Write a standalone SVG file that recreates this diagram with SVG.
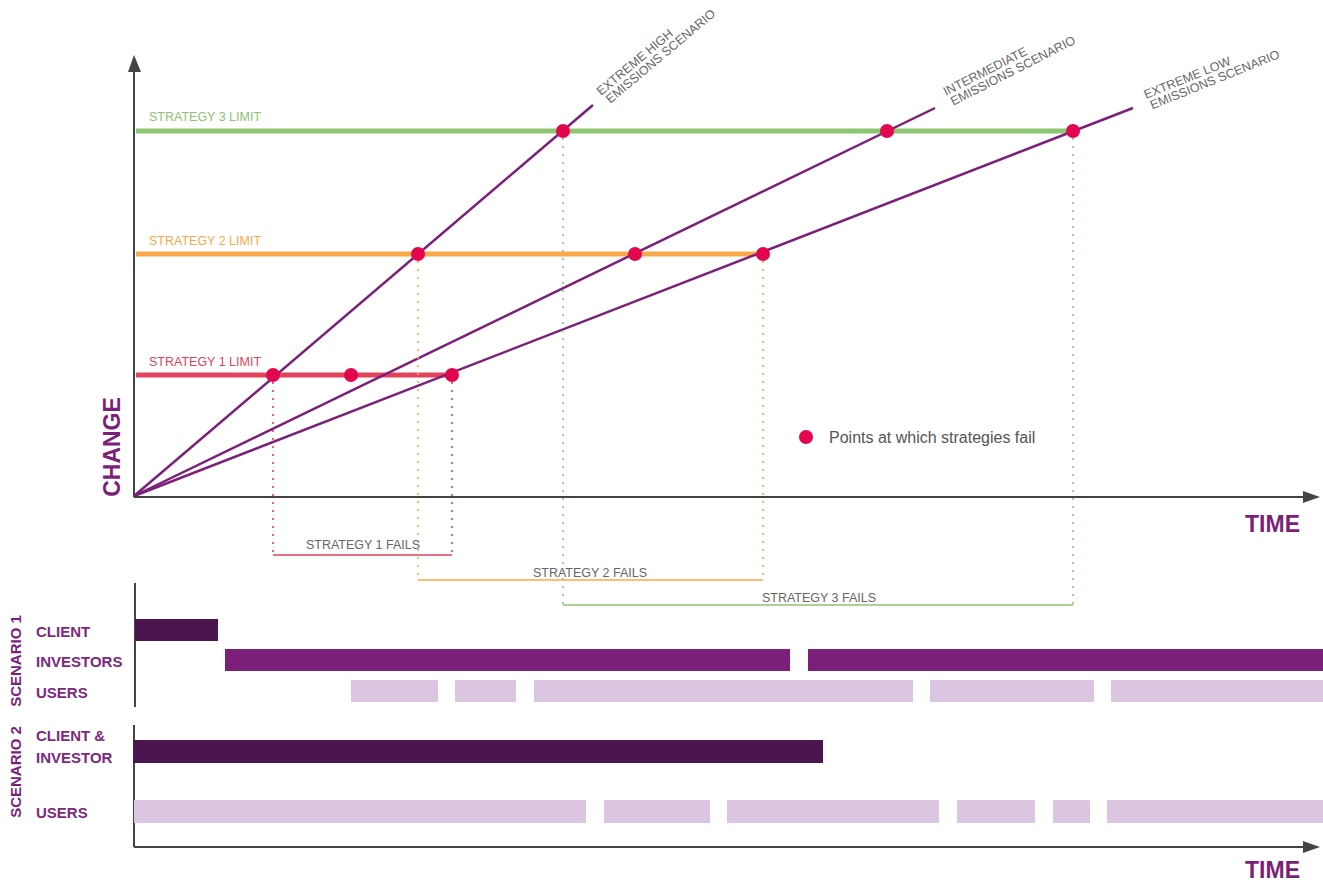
<svg xmlns="http://www.w3.org/2000/svg" width="1323" height="885" viewBox="0 0 1323 885">
<style>
.axis{stroke:#444;stroke-width:2;fill:none}
.arrow{fill:#444}
.scen{stroke:#7b1f7a;stroke-width:2.5;fill:none}
.lim{stroke-width:5;fill:none}
.dot{fill:#e3064f}
.dotted{stroke-width:2.2;stroke-dasharray:0 8;stroke-linecap:round;fill:none}
.fail{stroke-width:1.5;fill:none}
.small{font-family:"Liberation Sans",Arial,sans-serif;font-size:12.5px}
.gray{fill:#666}
.head{font-family:"Liberation Sans",Arial,sans-serif;font-weight:bold;fill:#7b1f7a}
.lab{font-family:"Liberation Sans",Arial,sans-serif;font-weight:bold;font-size:15px;fill:#7b2a7e}
.dark{fill:#4b1550}
.mid{fill:#7b1f7a}
.light{fill:#dcc5e0}
.red{stroke:#e0435a}
.orange{stroke:#f9a84a}
.green{stroke:#8cc572}
</style>
<rect width="1323" height="885" fill="#fff"/>

<g id="axes-top">
<line class="axis" x1="134" y1="497" x2="134" y2="70"/>
<polygon class="arrow" points="134,55 128,72 141,72"/>
<line class="axis" x1="134" y1="497" x2="1305" y2="497"/>
<polygon class="arrow" points="1320,497 1303,491 1303,503"/>
<text class="head" font-size="23" transform="translate(120,447) rotate(-90)" text-anchor="middle">CHANGE</text>
<text class="head" font-size="23" x="1300" y="532" text-anchor="end">TIME</text>
</g>

<g id="limits">
<line class="lim green" x1="136" y1="131" x2="1073" y2="131"/>
<line class="lim orange" x1="136" y1="254" x2="763" y2="254"/>
<line class="lim red" x1="136" y1="375" x2="452" y2="375"/>
<text class="small" fill="#8cc572" x="149" y="121">STRATEGY 3 LIMIT</text>
<text class="small" fill="#f9a84a" x="149" y="245">STRATEGY 2 LIMIT</text>
<text class="small" fill="#e0435a" x="149" y="366">STRATEGY 1 LIMIT</text>
</g>

<g id="connectors">
<line class="scen" x1="134" y1="496" x2="593" y2="105"/>
<line class="scen" x1="134" y1="496" x2="935" y2="108"/>
<line class="scen" x1="134" y1="496" x2="1133" y2="108"/>
<line class="dotted red" x1="273" y1="383" x2="273" y2="555"/>
<line class="dotted red" x1="452" y1="383" x2="452" y2="555"/>
<line class="dotted orange" x1="418" y1="262" x2="418" y2="580"/>
<line class="dotted orange" x1="763" y1="262" x2="763" y2="580"/>
<line class="dotted green" x1="563" y1="139" x2="563" y2="605"/>
<line class="dotted green" x1="1073" y1="139" x2="1073" y2="605"/>
<line class="fail red" x1="273" y1="555" x2="452" y2="555"/>
<line class="fail orange" x1="418" y1="580" x2="763" y2="580"/>
<line class="fail green" x1="563" y1="605" x2="1073" y2="605"/>
</g>

<g id="scenario-labels">
<text class="small gray" transform="translate(601,96) rotate(-40)"><tspan x="0" y="0">EXTREME HIGH</tspan><tspan x="2" y="12">EMISSIONS SCENARIO</tspan></text>
<text class="small gray" transform="translate(946,96) rotate(-27)"><tspan x="0" y="0">INTERMEDIATE</tspan><tspan x="2" y="12">EMISSIONS SCENARIO</tspan></text>
<text class="small gray" transform="translate(1146,99) rotate(-22)"><tspan x="0" y="0">EXTREME LOW</tspan><tspan x="2" y="12">EMISSIONS SCENARIO</tspan></text>
</g>

<g id="fail-points">
<circle class="dot" cx="563" cy="131" r="7"/>
<circle class="dot" cx="887" cy="131" r="7"/>
<circle class="dot" cx="1073" cy="131" r="7"/>
<circle class="dot" cx="418" cy="254" r="7"/>
<circle class="dot" cx="635" cy="254" r="7"/>
<circle class="dot" cx="763" cy="254" r="7"/>
<circle class="dot" cx="273" cy="375" r="7"/>
<circle class="dot" cx="351" cy="375" r="7"/>
<circle class="dot" cx="452" cy="375" r="7"/>
</g>

<g id="fail-labels">
<text class="small gray" x="363" y="549" text-anchor="middle">STRATEGY 1 FAILS</text>
<text class="small gray" x="590" y="577" text-anchor="middle">STRATEGY 2 FAILS</text>
<text class="small gray" x="819" y="602" text-anchor="middle">STRATEGY 3 FAILS</text>
</g>

<g id="legend">
<circle class="dot" cx="806" cy="437" r="7"/>
<text x="829" y="443" font-family="Liberation Sans, Arial, sans-serif" font-size="16" fill="#555">Points at which strategies fail</text>
</g>

<g id="scenario1">
<line class="axis" x1="135" y1="583" x2="135" y2="707"/>
<text class="head" font-size="15" transform="translate(21,661) rotate(-90)" text-anchor="middle">SCENARIO 1</text>
<text class="lab" x="36" y="637">CLIENT</text>
<text class="lab" x="36" y="667">INVESTORS</text>
<text class="lab" x="36" y="698">USERS</text>
<rect class="dark" x="135" y="619" width="83" height="22"/>
<rect class="mid" x="225" y="649" width="565" height="22"/>
<rect class="mid" x="808" y="649" width="515" height="22"/>
<rect class="light" x="351" y="680" width="87" height="22"/>
<rect class="light" x="455" y="680" width="61" height="22"/>
<rect class="light" x="534" y="680" width="379" height="22"/>
<rect class="light" x="930" y="680" width="164" height="22"/>
<rect class="light" x="1111" y="680" width="212" height="22"/>
</g>

<g id="scenario2">
<line class="axis" x1="134" y1="725" x2="134" y2="847"/>
<line class="axis" x1="134" y1="847" x2="1305" y2="847"/>
<polygon class="arrow" points="1320,847 1303,841 1303,853"/>
<text class="head" font-size="15" transform="translate(21,772) rotate(-90)" text-anchor="middle">SCENARIO 2</text>
<text class="lab" x="36" y="741">CLIENT &amp;</text>
<text class="lab" x="36" y="763">INVESTOR</text>
<text class="lab" x="36" y="818">USERS</text>
<rect class="dark" x="133" y="740" width="690" height="23"/>
<rect class="light" x="134" y="800" width="452" height="23"/>
<rect class="light" x="604" y="800" width="106" height="23"/>
<rect class="light" x="727" y="800" width="212" height="23"/>
<rect class="light" x="957" y="800" width="78" height="23"/>
<rect class="light" x="1053" y="800" width="37" height="23"/>
<rect class="light" x="1107" y="800" width="216" height="23"/>
<text class="head" font-size="23" x="1300" y="878" text-anchor="end">TIME</text>
</g>
</svg>
